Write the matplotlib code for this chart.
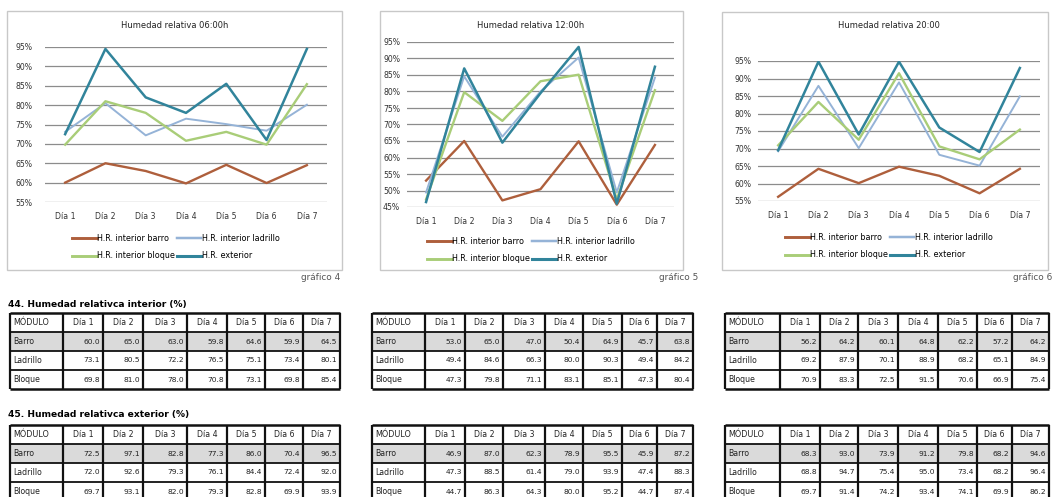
import matplotlib.pyplot as plt
from matplotlib.lines import Line2D
from matplotlib.patches import Rectangle

W, H = 1052, 497

dias = ["Día 1", "Día 2", "Día 3", "Día 4", "Día 5", "Día 6", "Día 7"]
modulos = ["Barro", "Ladrillo", "Bloque"]
series_names = ["H.R. interior barro", "H.R. interior ladrillo",
                "H.R. interior bloque", "H.R. exterior"]
titulos = ["Humedad relativa 06:00h", "Humedad relativa 12:00h", "Humedad relativa 20:00"]

# humedad relativa interior (%) por módulo, 06:00 / 12:00 / 20:00
int_barro_06 = [60.0, 65.0, 63.0, 59.8, 64.6, 59.9, 64.5]
int_ladrillo_06 = [73.1, 80.5, 72.2, 76.5, 75.1, 73.4, 80.1]
int_bloque_06 = [69.8, 81.0, 78.0, 70.8, 73.1, 69.8, 85.4]

int_barro_12 = [53.0, 65.0, 47.0, 50.4, 64.9, 45.7, 63.8]
int_ladrillo_12 = [49.4, 84.6, 66.3, 80.0, 90.3, 49.4, 84.2]
int_bloque_12 = [47.3, 79.8, 71.1, 83.1, 85.1, 47.3, 80.4]

int_barro_20 = [56.2, 64.2, 60.1, 64.8, 62.2, 57.2, 64.2]
int_ladrillo_20 = [69.2, 87.9, 70.1, 88.9, 68.2, 65.1, 84.9]
int_bloque_20 = [70.9, 83.3, 72.5, 91.5, 70.6, 66.9, 75.4]

# humedad relativa exterior (%) registrada junto a cada módulo
ext_barro_06 = [72.5, 97.1, 82.8, 77.3, 86.0, 70.4, 96.5]
ext_ladrillo_06 = [72.0, 92.6, 79.3, 76.1, 84.4, 72.4, 92.0]
ext_bloque_06 = [69.7, 93.1, 82.0, 79.3, 82.8, 69.9, 93.9]

ext_barro_12 = [46.9, 87.0, 62.3, 78.9, 95.5, 45.9, 87.2]
ext_ladrillo_12 = [47.3, 88.5, 61.4, 79.0, 93.9, 47.4, 88.3]
ext_bloque_12 = [44.7, 86.3, 64.3, 80.0, 95.2, 44.7, 87.4]

ext_barro_20 = [68.3, 93.0, 73.9, 91.2, 79.8, 68.2, 94.6]
ext_ladrillo_20 = [68.8, 94.7, 75.4, 95.0, 73.4, 68.2, 96.4]
ext_bloque_20 = [69.7, 91.4, 74.2, 93.4, 74.1, 69.9, 86.2]

# curva exterior de cada gráfico
exterior_06 = [72.5, 94.5, 82.0, 78.0, 85.5, 71.0, 94.5]
exterior_12 = [46.5, 87.0, 64.5, 79.5, 93.5, 46.0, 87.5]
exterior_20 = [69.5, 94.8, 74.0, 94.8, 76.0, 69.0, 93.0]

colores = ["#AE5F3C", "#95B3D7", "#A9CD78", "#31849B"]
anchos = [1.7, 1.4, 1.7, 1.8]

plt.rcParams["font.family"] = ["DejaVu Sans"]

fig = plt.figure(figsize=(W / 100, H / 100), dpi=100)


def frac(x0, y0, x1, y1):
    return [x0 / W, 1 - y1 / H, (x1 - x0) / W, (y1 - y0) / H]


bg = fig.add_axes([0, 0, 1, 1], zorder=0)
bg.set_xlim(0, W)
bg.set_ylim(H, 0)
bg.axis("off")

# marco, área de trazado, título, leyenda y rótulo de cada gráfico
graficos = [
    dict(caja=(7, 11, 342, 270), area=(45, 47, 327, 202), lim=(55, 95), pad=9,
         tit=(175, 25), ley=(176, 247), rot=(340, 278, "gráfico 4"),
         datos=[int_barro_06, int_ladrillo_06, int_bloque_06, exterior_06]),
    dict(caja=(380, 11, 683, 270), area=(407, 42, 674, 207), lim=(45, 95), pad=5,
         tit=(531, 25), ley=(531, 250), rot=(698, 278, "gráfico 5"),
         datos=[int_barro_12, int_ladrillo_12, int_bloque_12, exterior_12]),
    dict(caja=(722, 12, 1048, 270), area=(758, 61, 1040, 201), lim=(55, 95), pad=5,
         tit=(889, 26), ley=(889, 246), rot=(1052, 278, "gráfico 6"),
         datos=[int_barro_20, int_ladrillo_20, int_bloque_20, exterior_20]),
]

for n, g in enumerate(graficos):
    x0, y0, x1, y1 = g["caja"]
    bg.add_patch(Rectangle((x0, y0), x1 - x0, y1 - y0, fill=False,
                           edgecolor="#C8C8C8", lw=1.0))
    bg.text(g["tit"][0], g["tit"][1], titulos[n],
            ha="center", va="center", fontsize=6.0, color="#222222")
    rx, ry, rt = g["rot"]
    bg.text(rx, ry, rt, ha="right", va="center", fontsize=6.4, color="#555555")

    ax = fig.add_axes(frac(*g["area"]), zorder=2)
    ax.set_facecolor("none")
    lo, hi = g["lim"]
    ax.set_xlim(-0.5, 6.5)
    ax.set_ylim(lo, hi)
    ax.set_yticks(range(lo, hi + 1, 5))
    ax.set_yticklabels([f"{v}%" for v in range(lo, hi + 1, 5)])
    ax.set_xticks(range(len(dias)))
    ax.set_xticklabels(dias)
    ax.tick_params(length=0, labelsize=5.6, colors="#333333")
    ax.tick_params(axis="y", pad=g["pad"])
    ax.tick_params(axis="x", pad=7)
    ax.grid(axis="y", color="#8C8C8C", lw=0.9)
    ax.set_axisbelow(True)
    for s in ax.spines.values():
        s.set_visible(False)

    handles = []
    for serie, nombre, c, lw in zip(g["datos"], series_names, colores, anchos):
        ax.plot(range(len(dias)), serie, color=c, lw=lw)
        handles.append(Line2D([], [], color=c, lw=lw + 0.4, label=nombre))

    orden = [0, 2, 1, 3]
    lx, ly = g["ley"]
    fig.legend([handles[i] for i in orden], [series_names[i] for i in orden],
               loc="center", bbox_to_anchor=(lx / W, 1 - ly / H), ncol=2,
               frameon=False, fontsize=5.8, handlelength=3.0, handletextpad=0.1,
               columnspacing=0.2, labelspacing=1.1)

# tablas
tablas_int = [
    [int_barro_06, int_ladrillo_06, int_bloque_06],
    [int_barro_12, int_ladrillo_12, int_bloque_12],
    [int_barro_20, int_ladrillo_20, int_bloque_20],
]
tablas_ext = [
    [ext_barro_06, ext_ladrillo_06, ext_bloque_06],
    [ext_barro_12, ext_ladrillo_12, ext_bloque_12],
    [ext_barro_20, ext_ladrillo_20, ext_bloque_20],
]

columnas = [
    [10, 63, 103, 143, 187, 227, 265, 303, 340],
    [372, 425, 465, 503, 545, 583, 622, 657, 693],
    [725, 780, 820, 858, 898, 938, 977, 1012, 1049],
]
fila_h = 19


def dibujar_tabla(xs, ytop, filas):
    ybot = ytop + fila_h * 4
    # fila de barro sombreada
    bg.add_patch(Rectangle((xs[0], ytop + fila_h), xs[-1] - xs[0], fila_h,
                           facecolor="#DADADA", edgecolor="none"))
    for x in xs:
        bg.plot([x, x], [ytop, ybot], color="#111111", lw=1.6,
                solid_capstyle="butt")
    for k in range(5):
        y = ytop + k * fila_h
        bg.plot([xs[0], xs[-1]], [y, y], color="#111111",
                lw=1.8 if k in (0, 4) else 1.3, solid_capstyle="butt")
    yc = ytop + fila_h / 2
    bg.text(xs[0] + 3, yc, "MÓDULO", ha="left", va="center", fontsize=5.8,
            color="#222222")
    for j, d in enumerate(dias):
        bg.text((xs[j + 1] + xs[j + 2]) / 2, yc, d, ha="center", va="center",
                fontsize=5.6, color="#222222")
    for i, (m, vals) in enumerate(zip(modulos, filas)):
        yc = ytop + (i + 1.5) * fila_h
        bg.text(xs[0] + 3, yc, m, ha="left", va="center", fontsize=5.6,
                color="#222222")
        for j, v in enumerate(vals):
            bg.text(xs[j + 2] - 3, yc, f"{v:.1f}", ha="right", va="center",
                    fontsize=5.4, color="#222222")


bg.text(8, 305, "44. Humedad relativca interior (%)", ha="left", va="center",
        fontsize=6.6, fontweight="bold")
bg.text(8, 415, "45. Humedad relativca exterior (%)", ha="left", va="center",
        fontsize=6.6, fontweight="bold")

for xs, filas in zip(columnas, tablas_int):
    dibujar_tabla(xs, 313, filas)
for xs, filas in zip(columnas, tablas_ext):
    dibujar_tabla(xs, 425, filas)

fig.savefig("out.png", dpi=100)
